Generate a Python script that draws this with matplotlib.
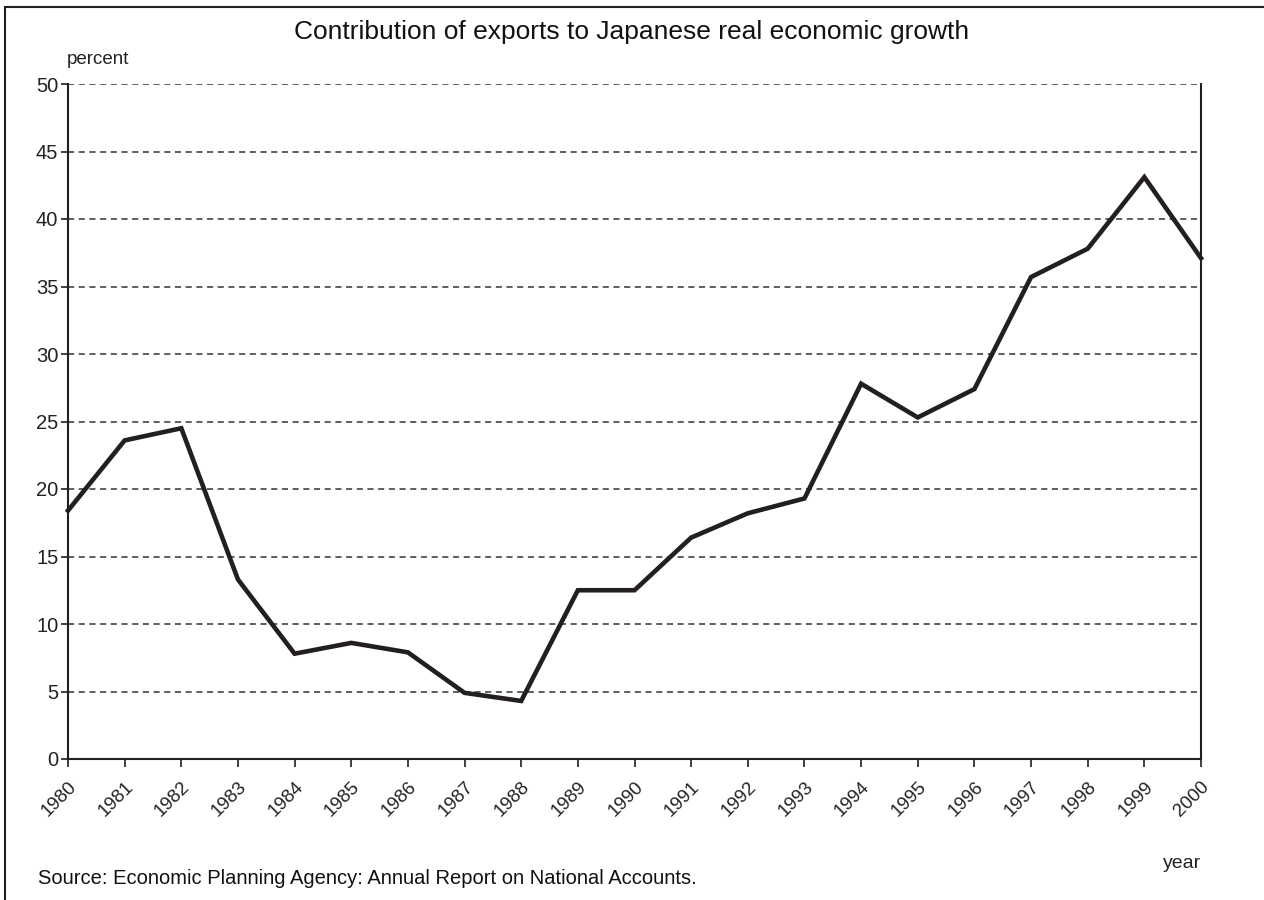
import matplotlib
matplotlib.use("Agg")
import matplotlib.pyplot as plt
from matplotlib.patches import Rectangle
from matplotlib.transforms import ScaledTranslation

plt.rcParams['font.family'] = ['Liberation Sans', 'DejaVu Sans']

# data
years = list(range(1980, 2001))
export_share = [18.4, 23.6, 24.5, 13.3, 7.8, 8.6, 7.9, 4.9, 4.3, 12.5, 12.5,
                16.4, 18.2, 19.3, 27.8, 25.3, 27.4, 35.7, 37.8, 43.1, 37.1]
yticks = list(range(0, 55, 5))

line_col = '#231f20'

fig = plt.figure(figsize=(12.64, 9), dpi=100)
ax = fig.add_axes([68/1264, 1 - 759/900, (1201-68)/1264, (759-84)/900])

# outer frame (only top and left edges show in the picture)
fig.patches.append(Rectangle((5/1264, -0.1), 1.2, (900-7)/900 + 0.1,
                             transform=fig.transFigure, fill=False,
                             edgecolor=line_col, linewidth=1.5))

for y in yticks[1:]:
    ax.axhline(y, color='#333333', linestyle=(0, (4, 3)), linewidth=1.1, zorder=1)

ax.plot(years, export_share, color=line_col, linewidth=3.3,
        solid_joinstyle='miter', zorder=3, clip_on=False)

ax.set_xlim(1980, 2000)
ax.set_ylim(0, 50)
ax.set_xticks(years)
ax.set_xticklabels([str(y) for y in years], rotation=45, ha='right', va='top',
                   rotation_mode='anchor', fontsize=13.5, color='#222222')
# nudge the rotated labels so their ends sit under the ticks
shift = ScaledTranslation(-4/100, 0, fig.dpi_scale_trans)
for lbl in ax.get_xticklabels():
    lbl.set_transform(lbl.get_transform() + shift)
ax.set_yticks(yticks)
ax.set_yticklabels([str(y) for y in yticks], fontsize=14.5, color='#222222')
ax.tick_params(axis='x', direction='out', length=6, width=1.2, colors=line_col,
               labelcolor='#222222', pad=8)
ax.tick_params(axis='y', direction='out', length=5, width=1.2, colors=line_col,
               labelcolor='#222222', pad=2)

ax.spines['top'].set_visible(False)
for s in ['left', 'right', 'bottom']:
    ax.spines[s].set_color(line_col)
    ax.spines[s].set_linewidth(1.5)

fig.text(632/1264, 1 - 32/900, 'Contribution of exports to Japanese real economic growth',
         ha='center', va='center', fontsize=19, color='#111111')
fig.text(67/1264, 1 - 60/900, 'percent', ha='left', va='center', fontsize=13.5,
         color='#222222')
fig.text(1201/1264, 1 - 863/900, 'year', ha='right', va='center', fontsize=14,
         color='#222222')
fig.text(38/1264, 1 - 878/900,
         'Source: Economic Planning Agency: Annual Report on National Accounts.',
         ha='left', va='center', fontsize=14.5, color='#111111')

fig.savefig('out.png', dpi=100)
